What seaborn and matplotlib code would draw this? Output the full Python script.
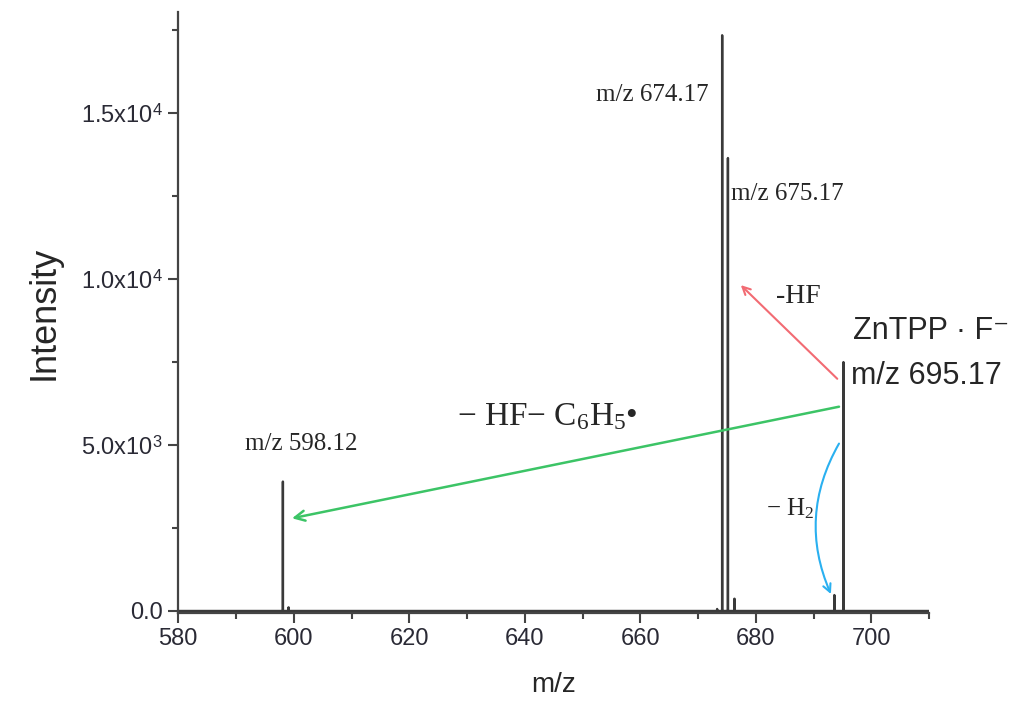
import numpy as np
import pandas as pd
import matplotlib
matplotlib.use("Agg")
import matplotlib.pyplot as plt
import seaborn as sns
from matplotlib.ticker import MultipleLocator, FixedLocator, FixedFormatter

# Peak list of the negative-ion spectrum (m/z, intensity)
peak_mz = [598.12, 599.1, 673.3, 674.17, 675.17, 676.3, 693.6, 695.17]
peak_int = [3900, 110, 60, 17350, 13650, 370, 480, 7500]

x_ticks = [580, 600, 620, 640, 660, 680, 700]
y_ticks = [0, 5000, 10000, 15000]
y_tick_labels = ["0.0", r"5.0x10$^\mathsf{3}$", r"1.0x10$^\mathsf{4}$", r"1.5x10$^\mathsf{4}$"]

# Stick spectrum as a continuous profile: baseline -> peak top -> baseline
prof_x, prof_y = [579.0], [0.0]
for mz, h in zip(peak_mz, peak_int):
    prof_x += [mz - 0.01, mz, mz + 0.01]
    prof_y += [0.0, h, 0.0]
prof_x.append(712.0)
prof_y.append(0.0)
spectrum = pd.DataFrame({"mz": prof_x, "intensity": prof_y})

sns.set_style("white")
plt.rcParams["font.family"] = ["Liberation Sans", "DejaVu Sans"]
plt.rcParams["mathtext.fontset"] = "custom"
plt.rcParams["mathtext.rm"] = "Liberation Serif"
plt.rcParams["mathtext.it"] = "Liberation Serif:italic"
plt.rcParams["mathtext.sf"] = "Liberation Sans"

fig = plt.figure(figsize=(10.11, 7.07), dpi=100)
ax = fig.add_axes([0.1763, 0.133, 0.7427, 0.850])

sns.lineplot(data=spectrum, x="mz", y="intensity", sort=False, ax=ax,
             color="#3a3a3a", linewidth=1.7, estimator=None)

ax.set_xlim(580, 710)
ax.set_ylim(-60, 18050)

for side in ("top", "right"):
    ax.spines[side].set_visible(False)
for side in ("left", "bottom"):
    ax.spines[side].set_color("#444444")
    ax.spines[side].set_linewidth(1.6)

ax.xaxis.set_major_locator(FixedLocator(x_ticks))
ax.xaxis.set_minor_locator(MultipleLocator(10))
ax.yaxis.set_major_locator(FixedLocator(y_ticks))
ax.yaxis.set_major_formatter(FixedFormatter(y_tick_labels))
ax.yaxis.set_minor_locator(MultipleLocator(2500))
ax.tick_params(axis="both", which="major", direction="out", length=7, width=1.5,
               color="#444444", labelsize=17, labelcolor="#2a2a35", pad=4)
ax.tick_params(axis="both", which="minor", direction="out", length=4, width=1.5,
               color="#444444")
ax.tick_params(axis="x", which="both", bottom=True)
ax.tick_params(axis="y", which="both", left=True)

ax.set_xlabel("m/z", fontsize=20, labelpad=16)
ax.set_ylabel("Intensity", fontsize=26, labelpad=14)

serif = ["Liberation Serif", "DejaVu Serif"]
sans = ["Liberation Sans", "DejaVu Sans"]

ax.text(652.3, 15555, "m/z 674.17", family=serif, fontsize=18, ha="left", va="center")
ax.text(675.7, 12553, "m/z 675.17", family=serif, fontsize=18, ha="left", va="center")
ax.text(591.6, 5045, "m/z 598.12", family=serif, fontsize=18, ha="left", va="center")
ax.text(683.5, 9490, "-HF", family=serif, fontsize=20, ha="left", va="center")
ax.text(696.9, 8438, "ZnTPP · F⁻", family=sans, fontsize=22, ha="left", va="center")
ax.text(696.5, 7087, "m/z 695.17", family=sans, fontsize=22, ha="left", va="center")
ax.text(628.2, 5856, r"$-$ HF$-$ C$_6$H$_5$•", family=serif, fontsize=24,
        ha="left", va="center")
ax.text(681.8, 3093, r"$-$ H$_2$", family=serif, fontsize=18, ha="left", va="center")

# Fragmentation arrows
ax.annotate("", xy=(677.4, 9820), xytext=(694.1, 6997),
            arrowprops=dict(arrowstyle="->", color="#f26b73", lw=1.5,
                            shrinkA=0, shrinkB=0, mutation_scale=14))
ax.annotate("", xy=(599.7, 2793), xytext=(694.4, 6156),
            arrowprops=dict(arrowstyle="->", color="#3cc466", lw=1.8,
                            shrinkA=0, shrinkB=0, mutation_scale=18))
ax.annotate("", xy=(693.0, 510), xytext=(694.4, 5045),
            arrowprops=dict(arrowstyle="->", color="#2ab0f0", lw=1.5,
                            shrinkA=0, shrinkB=0, mutation_scale=14,
                            connectionstyle="arc3,rad=0.25"))

fig.savefig("out.png", dpi=100)
